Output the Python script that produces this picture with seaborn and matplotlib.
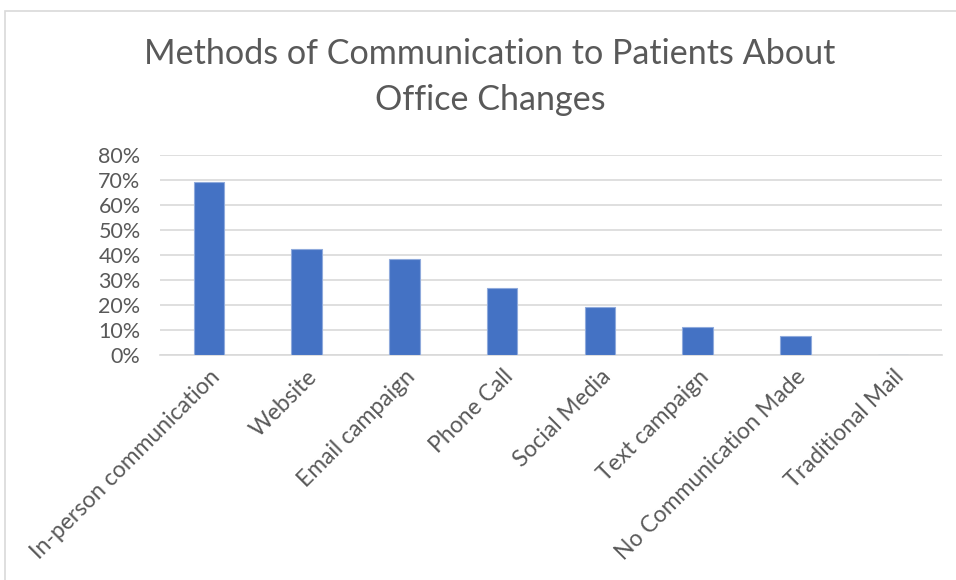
import pandas as pd
import matplotlib.pyplot as plt
import seaborn as sns
from matplotlib.patches import Rectangle
from matplotlib.ticker import PercentFormatter

# values
methods = ['In-person communication', 'Website', 'Email campaign', 'Phone Call',
           'Social Media', 'Text campaign', 'No Communication Made', 'Traditional Mail']
shares = [0.691, 0.423, 0.383, 0.267, 0.191, 0.113, 0.076, 0.0]

df = pd.DataFrame({'Method': methods, 'Share': shares})

sns.set_style('white')
plt.rcParams['font.family'] = ['Lato', 'DejaVu Sans']

fig = plt.figure(figsize=(9.56, 5.8), dpi=100)
ax = fig.add_axes([160 / 956, 1 - 355 / 580, 782 / 956, 200 / 580])

sns.barplot(data=df, x='Method', y='Share', color='#4472C4', width=0.31,
            saturation=1, edgecolor='#8FAADC', linewidth=0.8, ax=ax, zorder=3)

ax.set_ylim(0, 0.8)
ax.set_xlim(-0.5, len(methods) - 0.5)
ax.set_yticks([i / 10 for i in range(9)])
ax.yaxis.set_major_formatter(PercentFormatter(1.0, decimals=0))
ax.grid(axis='y', color='#D9D9D9', linewidth=1.2, zorder=0)
ax.grid(axis='x', visible=False)
for s in ['top', 'right', 'left']:
    ax.spines[s].set_visible(False)
ax.spines['bottom'].set_color('#D9D9D9')
ax.spines['bottom'].set_linewidth(1.2)

ax.set_xlabel('')
ax.set_ylabel('')
ax.tick_params(axis='y', labelsize=15.5, colors='#595959', length=0, pad=14)
ax.tick_params(axis='x', labelsize=16.5, colors='#595959', length=0, pad=8)
plt.setp(ax.get_xticklabels(), rotation=45, ha='right', rotation_mode='anchor')

fig.text(490 / 956, 1 - 77 / 580, 'Methods of Communication to Patients About\nOffice Changes',
         ha='center', va='center', fontsize=24.6, color='#595959', linespacing=1.5)

# chart frame
fig.patches.append(Rectangle((5 / 956, -0.05), 1.1, 1 - 11 / 580 + 0.05,
                             transform=fig.transFigure, fill=False,
                             edgecolor='#D9D9D9', linewidth=1.2))

fig.savefig('out.png', dpi=100)
